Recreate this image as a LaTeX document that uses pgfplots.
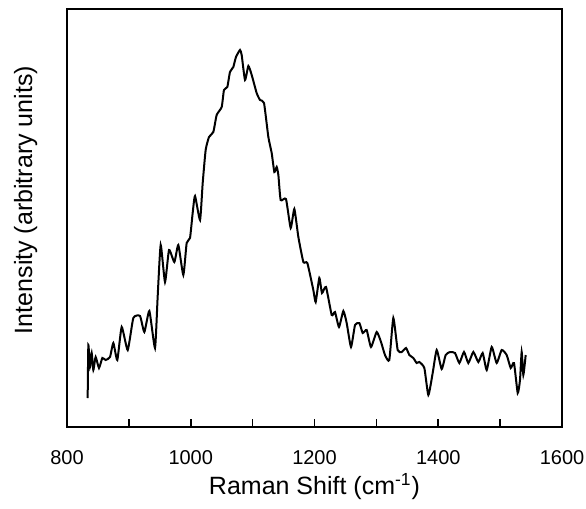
\documentclass[border=0pt]{standalone}
\usepackage{fontspec}
\setmainfont{Liberation Sans}
\usepackage{pgfplots}
\pgfplotsset{compat=1.18}

\begin{document}
\begin{tikzpicture}
\begin{axis}[
  scale only axis,
  width=247.5pt, height=209pt,
  xmin=800, xmax=1600,
  ymin=0, ymax=418,
  xtick={800,1000,1200,1400,1600},
  minor xtick={900,1100,1300,1500},
  xtick pos=bottom,
  ytick=\empty,
  tick align=inside,
  major tick length=4pt, minor tick length=4pt,
  every tick/.style={black, line width=0.8pt},
  axis line style={line width=0.8pt},
  /pgf/number format/assume math mode=true,
  /pgf/number format/1000 sep={},
  tick label style={font=\fontsize{10}{12}\selectfont},
  xticklabel style={anchor=base, yshift=-18.5pt},
  xlabel={Raman Shift (cm\textsuperscript{-1})},
  ylabel={Intensity (arbitrary units)},
  every axis x label/.style={at={(axis description cs:0.5,0)}, anchor=base, yshift=-33.5pt, font=\fontsize{12.5}{15}\selectfont},
  every axis y label/.style={at={(axis description cs:0,0.5)}, rotate=90, anchor=base, yshift=17.5pt, xshift=9pt, font=\fontsize{12.5}{15}\selectfont},
]
\coordinate (bl) at (rel axis cs:0,0);
\coordinate (tr) at (rel axis cs:1,1);
\addplot[black, line width=1pt, smooth, tension=0.3] table {
x y
833.4 29
834.5 82
837.2 60
839.9 74
842.6 57
846.3 70
851.7 59
857.1 69
862.5 67
869.5 70
874.9 84
881.3 67
888.4 100
898.1 77
907.2 109
918.0 111
925.0 95
933.1 116
942.2 79
946.5 130
951.4 182
958.4 145
964.9 177
973.5 165
979.9 182
988.0 152
993.4 184
998.8 189
1003.1 214
1006.9 231
1015.0 207
1019.3 244
1024.1 277
1029.5 290
1036.5 295
1041.9 312
1050.0 320
1053.7 337
1059.1 340
1063.4 355
1068.8 360
1073.1 370
1079.6 377
1082.3 372
1087.7 347
1093.1 361
1098.5 352
1106.5 334
1111.9 327
1118.4 324
1125.4 290
1130.8 274
1135.1 255
1138.9 260
1141.6 252
1145.3 227
1153.9 228
1161.5 199
1167.4 218
1173.9 190
1182.0 165
1188.4 164
1198.1 137
1201.9 125
1207.8 149
1212.1 134
1218.6 140
1227.8 112
1233.1 115
1239.6 100
1246.6 116
1252.0 104
1259.0 80
1265.5 102
1272.5 104
1277.9 94
1284.3 97
1291.3 80
1300.5 95
1307.5 85
1313.9 72
1320.9 67
1327.4 109
1334.4 77
1340.9 75
1347.9 79
1353.3 72
1359.7 69
1365.1 64
1369.4 65
1377.5 59
1384.0 32
1391.0 54
1397.5 77
1405.5 58
1412.0 72
1419.0 75
1427.1 74
1434.1 64
1441.6 75
1448.6 64
1456.7 75
1464.8 65
1471.8 74
1478.3 57
1486.4 80
1494.4 64
1502.5 77
1510.6 72
1517.1 59
1522.4 64
1528.4 34
1532.1 47
1534.8 75
1537.5 52
1541.3 72
};
\end{axis}
\pgfresetboundingbox
\path ([shift={(-33.5pt,-40.5pt)}]bl) rectangle ([shift={(12pt,4.5pt)}]tr);
\end{tikzpicture}
\end{document}
